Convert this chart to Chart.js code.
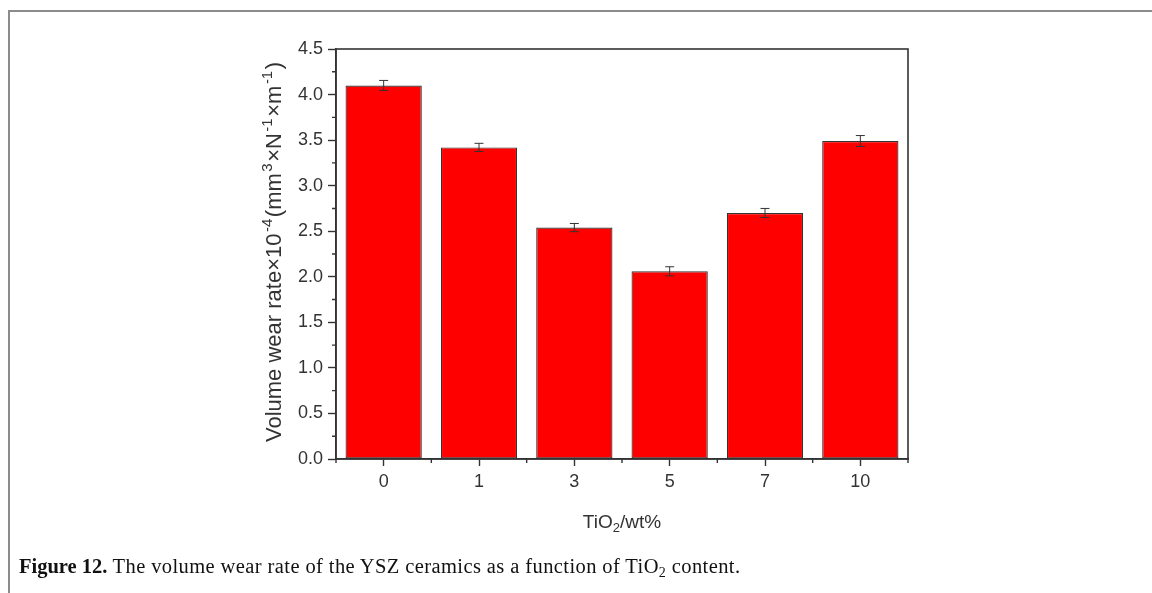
<!DOCTYPE html>
<html>
<head>
<meta charset="utf-8">
<script src="https://cdn.jsdelivr.net/npm/chart.js@4"></script>
<style>
  html, body { margin: 0; padding: 0; background: #fff; }
  body { width: 1152px; height: 593px; position: relative; overflow: hidden; }
  .page-rule {
    position: absolute; left: 8px; top: 10px; right: 0; bottom: 0;
    border-top: 2px solid #8c8c8c; border-left: 2px solid #8c8c8c;
  }
  #wrap { position: absolute; left: 0; top: 0; width: 1152px; height: 593px; }
  .caption {
    position: absolute; left: 19px; top: 555px; margin: 0;
    font-family: "Liberation Serif", "DejaVu Serif", serif; font-size: 20.5px; color: #111;
    white-space: nowrap; letter-spacing: 0.4px;
  }
  .caption b { letter-spacing: 0; }
  .caption sub { font-size: 14px; vertical-align: -4px; line-height: 0; }
</style>
</head>
<body>
<div class="page-rule"></div>
<div id="wrap"><canvas id="c" width="1152" height="593"></canvas></div>
<p class="caption"><b>Figure 12.</b> The volume wear rate of the YSZ ceramics as a function of TiO<sub>2</sub> content.</p>
<script>
// TiO2 content (wt%) and the measured volume wear rate (×10^-4 mm^3/(N·m))
const categories = ['0', '1', '3', '5', '7', '10'];
const wearRate = [4.10, 3.42, 2.54, 2.06, 2.70, 3.49];
const wearErr = [0.055, 0.045, 0.045, 0.05, 0.05, 0.06];
const yTickValues = [0, 0.5, 1.0, 1.5, 2.0, 2.5, 3.0, 3.5, 4.0, 4.5];
const yMinorValues = [0.25, 0.75, 1.25, 1.75, 2.25, 2.75, 3.25, 3.75, 4.25];

const INK = '#333333';
const SANS = '"Liberation Sans", Arial, sans-serif';

// draws a run list (plain / superscript / subscript) centred on the origin
function drawRuns(ctx, runs, size, gap) {
  const small = Math.round(size * 0.66);
  let total = 0;
  const widths = runs.map(r => {
    ctx.font = (r[1] ? small : size) + 'px ' + SANS;
    const w = ctx.measureText(r[0]).width + (r[1] ? gap : 0);
    total += w;
    return w;
  });
  let x = -total / 2;
  runs.forEach((r, i) => {
    ctx.font = (r[1] ? small : size) + 'px ' + SANS;
    const dy = r[1] === 'sup' ? -size * 0.40 : (r[1] === 'sub' ? size * 0.22 : 0);
    ctx.fillText(r[0], x + (r[1] ? gap / 2 : 0), dy);
    x += widths[i];
  });
}

const decorations = {
  id: 'decorations',
  afterDatasetsDraw(chart) {
    const ctx = chart.ctx;
    const xs = chart.scales.x, ys = chart.scales.y;
    const a = chart.chartArea;
    const meta = chart.getDatasetMeta(0);
    ctx.save();

    // error bars
    ctx.strokeStyle = INK;
    ctx.lineWidth = 1;
    wearRate.forEach((v, i) => {
      const x = meta.data[i].x;
      const yt = ys.getPixelForValue(v + wearErr[i]);
      const yb = ys.getPixelForValue(v - wearErr[i]);
      ctx.beginPath();
      ctx.moveTo(x, yt); ctx.lineTo(x, yb);
      ctx.moveTo(x - 4.5, yt); ctx.lineTo(x + 4.5, yt);
      ctx.moveTo(x - 4.5, yb); ctx.lineTo(x + 4.5, yb);
      ctx.stroke();
    });

    // plot frame
    ctx.lineWidth = 1.6;
    ctx.strokeRect(a.left, a.top, a.right - a.left, a.bottom - a.top);

    // minor ticks: category boundaries on x, quarter steps on y
    ctx.lineWidth = 1.4;
    ctx.beginPath();
    for (let i = 0; i <= categories.length; i++) {
      const x = xs.getPixelForValue(i - 0.5);
      ctx.moveTo(x, a.bottom); ctx.lineTo(x, a.bottom + 4);
    }
    yMinorValues.forEach(v => {
      const y = ys.getPixelForValue(v);
      ctx.moveTo(a.left, y); ctx.lineTo(a.left - 4, y);
    });
    ctx.stroke();

    // axis titles
    ctx.fillStyle = INK;
    ctx.textBaseline = 'alphabetic';
    ctx.textAlign = 'left';
    ctx.save();
    ctx.translate(281, (a.top + a.bottom) / 2 - 2);
    ctx.rotate(-Math.PI / 2);
    drawRuns(ctx, [
      ['Volume wear rate\u00d710', 0], ['-4', 'sup'], ['(mm', 0], ['3', 'sup'],
      ['\u00d7N', 0], ['-1', 'sup'], ['\u00d7m', 0], ['-1', 'sup'], [')', 0]
    ], 22, 3);
    ctx.restore();

    ctx.save();
    ctx.translate((a.left + a.right) / 2, 528);
    drawRuns(ctx, [['TiO', 0], ['2', 'sub'], ['/wt%', 0]], 19, 0);
    ctx.restore();

    ctx.restore();
  }
};

new Chart(document.getElementById('c'), {
  type: 'bar',
  data: {
    labels: categories,
    datasets: [{
      data: wearRate,
      backgroundColor: '#ff0000',
      borderColor: INK,
      borderWidth: 1.2,
      borderSkipped: false,
      barPercentage: 0.8,
      categoryPercentage: 1.0
    }]
  },
  options: {
    responsive: false,
    animation: false,
    events: [],
    layout: { padding: { top: 49, right: 244, left: 0, bottom: 0 } },
    plugins: { legend: { display: false }, tooltip: { enabled: false } },
    scales: {
      x: {
        type: 'category',
        offset: true,
        grid: { display: true, drawOnChartArea: false, offset: false, tickLength: 7, tickWidth: 1.4, tickColor: INK },
        border: { display: true, color: INK, width: 1.6 },
        ticks: { color: INK, font: { family: SANS, size: 18 }, padding: 5, maxRotation: 0 },
        afterFit(s) { s.height = 134; }
      },
      y: {
        type: 'linear',
        min: 0, max: 4.5,
        afterBuildTicks(s) { s.ticks = yTickValues.map(v => ({ value: v })); },
        grid: { display: true, drawOnChartArea: false, tickLength: 8, tickWidth: 1.4, tickColor: INK },
        border: { display: true, color: INK, width: 1.6 },
        ticks: { color: INK, font: { family: SANS, size: 18 }, padding: 5, callback: v => Number(v).toFixed(1) },
        afterFit(s) { s.width = 336; }
      }
    }
  },
  plugins: [decorations]
});
</script>
</body>
</html>
